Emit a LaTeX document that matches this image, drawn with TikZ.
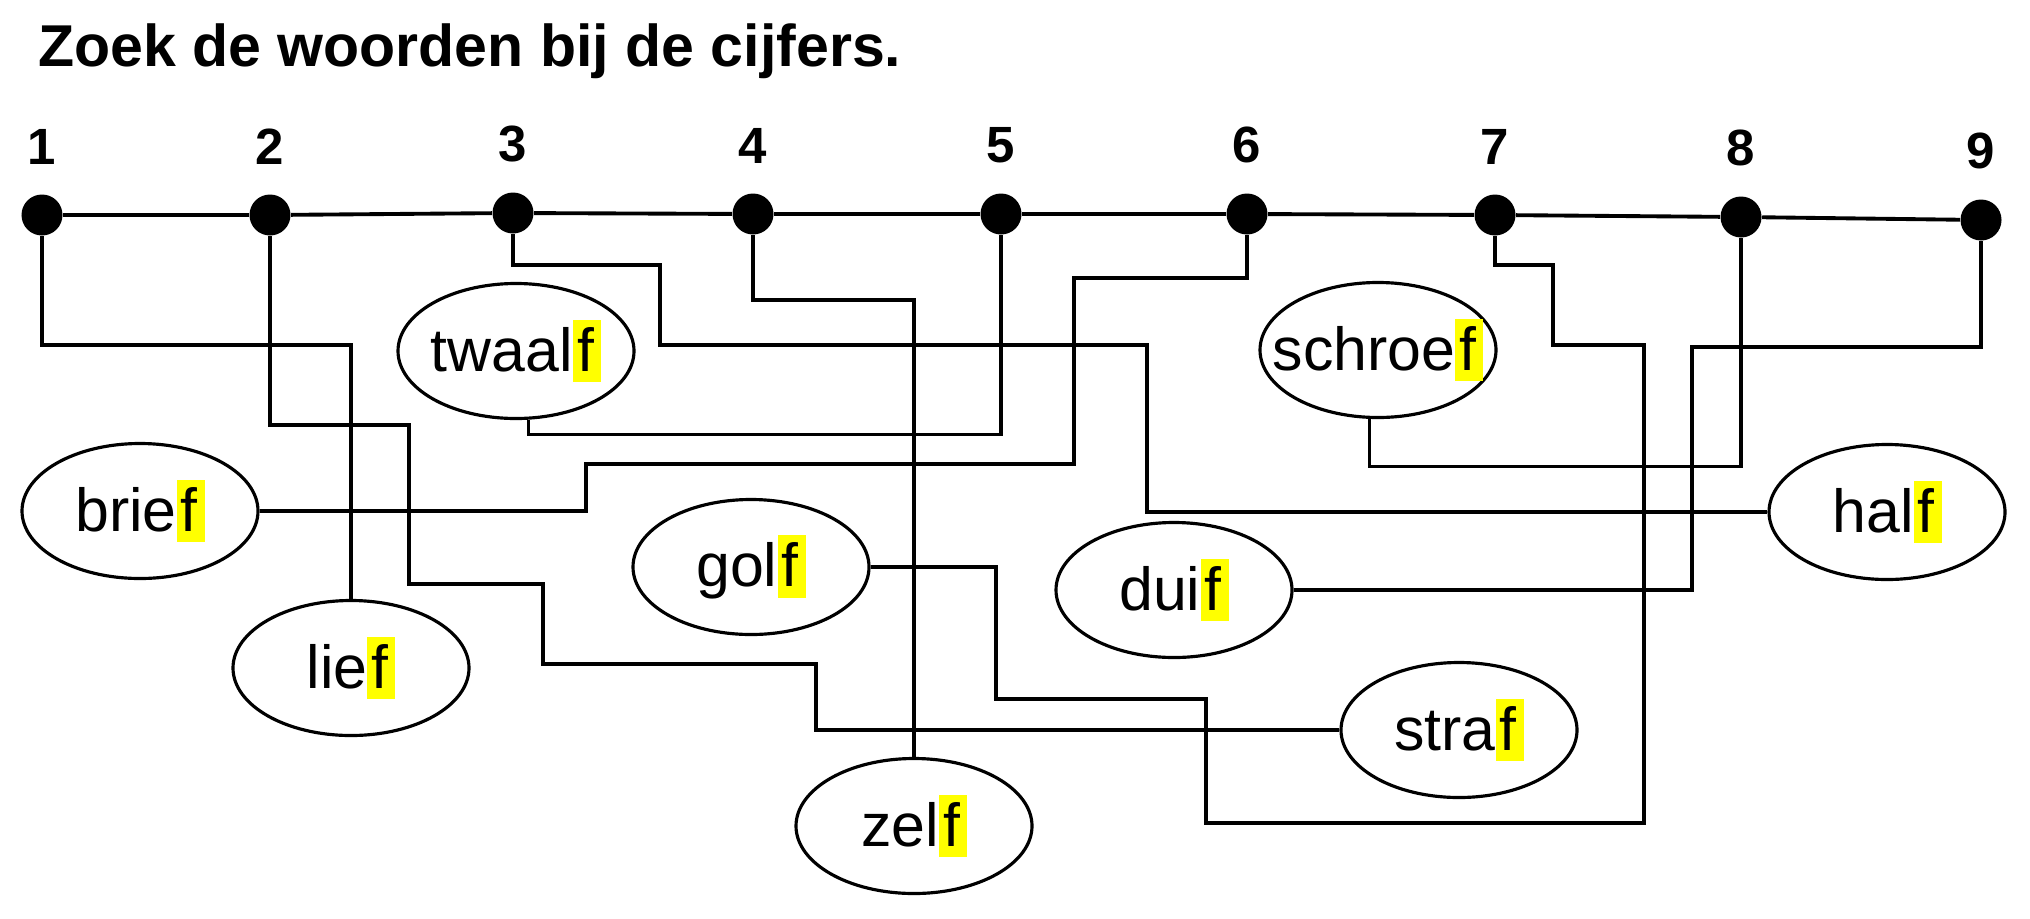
\documentclass[tikz,border=0pt]{standalone}
\usepackage{xcolor}
\usepackage{fontspec}
\setmainfont{Liberation Sans}
\usepackage{tikz}
\usetikzlibrary{positioning,shapes.geometric}
\definecolor{markyellow}{RGB}{255,255,0}
\newcommand\wordfont{\fontsize{17.3}{20}\selectfont}
\newcommand\numfont{\fontsize{14.5}{17}\selectfont\bfseries}
\newcommand\titlefont{\fontsize{16.8}{20}\selectfont\bfseries}
\newcommand\markf[1]{{\setlength{\fboxsep}{0pt}\colorbox{markyellow}{\rule[-3.1pt]{0pt}{17.9pt}\kern1.2pt#1\kern2pt}}}
\tikzset{
  dot/.style={
    circle,
    fill=black,
    inner sep=0pt,
    minimum size=0.41cm
  },
  num/.style={
    inner sep=0pt,
    font=\numfont
  },
  word/.style={
    ellipse,
    draw,
    line width=0.9pt,
    minimum width=2.36cm,
    minimum height=1.35cm,
    inner xsep=-4mm,
    inner ysep=0pt,
    font=\wordfont
  },
  bar/.style={
    line width=1.1pt
  },
  link/.style={
    line width=0.9pt
  }
}
\begin{document}
\begin{tikzpicture}
  \useasboundingbox (0,0) rectangle (20.30,-9.18);

  % title
  \node[anchor=base west, inner sep=0pt, font=\titlefont] (title) at (0.376,-0.667) {Zoek de woorden bij de cijfers.};

  % numbered dots
  \foreach \i/\x/\y in {1/0.42/-2.15, 2/2.70/-2.15, 3/5.13/-2.13, 4/7.53/-2.14, 5/10.01/-2.14,
                        6/12.47/-2.14, 7/14.95/-2.15, 8/17.41/-2.17, 9/19.81/-2.20} {
    \node[dot] (d\i) at (\x,\y) {};
    \node[num, above=0.29cm of d\i] (n\i) {\i};
  }
  \foreach \a/\b in {1/2, 2/3, 3/4, 4/5, 5/6, 6/7, 7/8, 8/9}
    \draw[bar] (d\a) -- (d\b);

  % words
  \node[word] (twaalf)  at (5.16,-3.51)  {twaal\markf{f}};
  \node[word] (schroef) at (13.78,-3.50) {schroe\markf{f}};
  \node[word] (brief)   at (1.40,-5.11)  {brie\markf{f}};
  \node[word] (half)    at (18.87,-5.12) {hal\markf{f}};
  \node[word] (golf)    at (7.51,-5.67)  {gol\markf{f}};
  \node[word] (duif)    at (11.74,-5.90) {dui\markf{f}};
  \node[word] (lief)    at (3.51,-6.68)  {lie\markf{f}};
  \node[word] (straf)   at (14.59,-7.30) {stra\markf{f}};
  \node[word] (zelf)    at (9.14,-8.26)  {zel\markf{f}};

  % lines
  \draw[link] (d1) |- (3.51,-3.45) -- (lief);
  \draw[link] (d2) |- (4.09,-4.25) |- (5.43,-5.84) |- (8.16,-6.64) |- (straf);
  \draw[link] (d3) |- (6.60,-2.65) |- (11.47,-3.45) |- (half);
  \draw[link] (d4) |- (9.14,-3.00) -- (zelf);
  \draw[link] (d5) |- ([yshift=-1.5mm]twaalf.-80) -- (twaalf.-80);
  \draw[link] (d6) |- (10.74,-2.78) |- (5.86,-4.64) |- (brief);
  \draw[link] (d7) |- (15.53,-2.65) |- (16.44,-3.45) |- (12.06,-8.23) |- (9.96,-6.99) |- (golf);
  \draw[link] (d8) |- ([yshift=-4.75mm]schroef.-97) -- (schroef.-97);
  \draw[link] (d9) |- (16.92,-3.47) |- (duif);

\end{tikzpicture}
\end{document}
